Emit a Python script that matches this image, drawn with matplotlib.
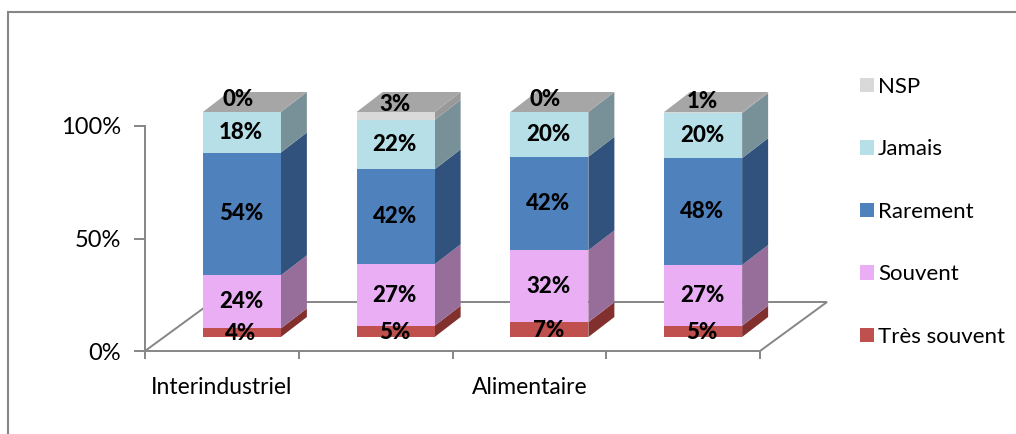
import matplotlib
matplotlib.use('Agg')
import matplotlib.pyplot as plt
from matplotlib.lines import Line2D
from matplotlib.patches import Polygon
import numpy as np

plt.rcParams['font.family'] = ['Lato', 'DejaVu Sans']

# categories and values
categories = ['Interindustriel', '', 'Alimentaire', '']
series_names = ['Très souvent', 'Souvent', 'Rarement', 'Jamais', 'NSP']
tres_souvent = [3.8, 5.0, 6.6, 5.0]
souvent = [23.6, 27.3, 31.9, 27.0]
rarement = [54.6, 42.2, 41.6, 47.5]
jamais = [18.0, 22.0, 19.9, 20.0]
nsp = [0.0, 3.5, 0.0, 0.5]
labels_tres_souvent = ['4%', '5%', '7%', '5%']
labels_souvent = ['24%', '27%', '32%', '27%']
labels_rarement = ['54%', '42%', '42%', '48%']
labels_jamais = ['18%', '22%', '20%', '20%']
labels_nsp = ['0%', '3%', '0%', '1%']

front_colors = ['#c0504d', '#e9aef3', '#4f81bd', '#b7dfe8', '#d9d9d9']
side_colors = ['#82302e', '#976d9a', '#31527c', '#789098', '#999999']
top_color = '#a6a6a6'
line_color = '#868686'

W, H = 1016, 434
fig = plt.figure(figsize=(W / 100, H / 100), dpi=100)
# axes box: 0% at y=351, 100% at y=126, x from 145 to 760 (pixels from top left)
ax = fig.add_axes([145 / W, 1 - 351 / H, 615 / W, 225 / H])
ax.set_xlim(0, 4)
ax.set_ylim(0, 100)

px_x = 4 / 615
px_y = 100 / 225
bar_w = 78 * px_x
shift = 20 * px_x      # bars sit further back than the category centre
lift = 14 * px_y       # and above the floor front edge
depth_x = 26 * px_x
depth_y = 20 * px_y

# floor of the 3d box
fx, fy = 67 * px_x, 49 * px_y
ax.plot([0, fx, 4 + fx, 4], [0, fy, fy, 0], color=line_color, lw=1.4,
        clip_on=False, zorder=1, solid_joinstyle='miter')

all_series = [tres_souvent, souvent, rarement, jamais, nsp]
all_labels = [labels_tres_souvent, labels_souvent, labels_rarement, labels_jamais, labels_nsp]
x = np.arange(len(categories)) + 0.5 + shift
bottom = np.full(len(categories), lift)

for k, vals in enumerate(all_series):
    vals = np.array(vals)
    ax.bar(x, vals, bar_w, bottom=bottom, color=front_colors[k], label=series_names[k],
           zorder=3, clip_on=False)
    for i in range(len(x)):
        r = x[i] + bar_w / 2
        b, t = bottom[i], bottom[i] + vals[i]
        ax.add_patch(Polygon([(r, b), (r + depth_x, b + depth_y), (r + depth_x, t + depth_y), (r, t)],
                             closed=True, fc=side_colors[k], ec='none', zorder=2.5, clip_on=False))
        # small top segments get their label pushed up over the top face
        yoff = -1 if k == 0 else 0
        if k == 4:
            yoff = 13 if vals[i] == 0 else 11
        xoff = -4 if (k == 4 and vals[i] == 0) else -1
        ax.annotate(all_labels[k][i], (x[i], (b + t) / 2), xytext=(xoff, yoff),
                    textcoords='offset pixels', ha='center', va='center',
                    fontsize=16, fontweight='black', color='black', zorder=6,
                    annotation_clip=False)
    bottom = bottom + vals

# top face of each column
for i in range(len(x)):
    l, r = x[i] - bar_w / 2, x[i] + bar_w / 2
    t = bottom[i]
    ax.add_patch(Polygon([(l, t), (r, t), (r + depth_x, t + depth_y), (l + depth_x, t + depth_y)],
                         closed=True, fc=top_color, ec='none', zorder=2.5, clip_on=False))

for s in ['top', 'right']:
    ax.spines[s].set_visible(False)
for s in ['left', 'bottom']:
    ax.spines[s].set_color(line_color)
    ax.spines[s].set_linewidth(1.4)

ax.set_yticks([0, 50, 100])
ax.set_yticklabels(['0%', '50%', '100%'], fontsize=17, color='black')
ax.set_xticks(np.arange(5))
ax.set_xticklabels([])
ax.set_xticks(np.arange(4) + 0.5, minor=True)
ax.set_xticklabels(categories, minor=True, fontsize=16.5, color='black')
ax.tick_params(axis='x', which='minor', length=0, pad=19)
ax.tick_params(axis='x', which='major', length=6, width=1.4, color=line_color)
ax.tick_params(axis='y', length=8, width=1.4, color=line_color, pad=9.5)

handles, names = ax.get_legend_handles_labels()
ax.legend(handles[::-1], names[::-1], loc='upper left',
          bbox_to_anchor=(860 / W, 1 - 77 / H), bbox_transform=fig.transFigure,
          frameon=False, fontsize=16, labelspacing=1.91, handlelength=0.63,
          handleheight=0.63, handletextpad=0.18, borderpad=0, borderaxespad=0)

# chart frame, only top and left show in the crop
fig.add_artist(Line2D([8 / W, 8 / W, 1], [0, 1 - 12 / H, 1 - 12 / H], color=line_color, lw=1.5,
                      solid_joinstyle='miter'))

fig.savefig('out.png', dpi=100)
